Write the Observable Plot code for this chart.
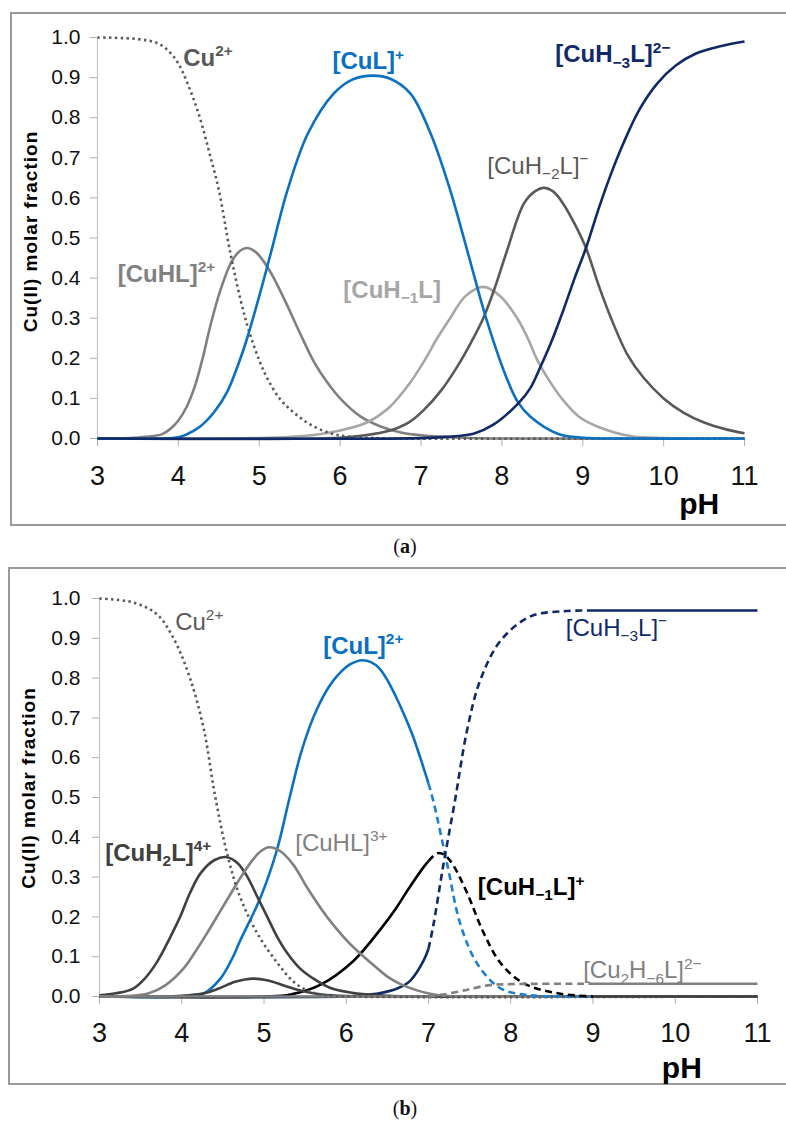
<!DOCTYPE html>
<html><head><meta charset="utf-8">
<script src="https://cdn.jsdelivr.net/npm/d3@7"></script>
<script src="https://cdn.jsdelivr.net/npm/@observablehq/plot@0.6"></script>
<style>
html,body{margin:0;padding:0;background:#fff;width:786px;height:1122px;overflow:hidden;position:relative;font-family:"Liberation Sans",Arial,sans-serif}
.box{position:absolute;border:2px solid #9a9a9a;border-right:none;background:#fff}
.box svg{display:block}
.cap{position:absolute;width:100px;text-align:center;font-family:"Liberation Serif","Times New Roman",serif;font-size:20px;color:#111}
</style></head><body>
<div id="boxA" class="box" style="left:10px;top:12px;width:776px;height:510px"></div>
<div class="cap" style="left:355px;top:535px">(<b>a</b>)</div>
<div id="boxB" class="box" style="left:8px;top:567px;width:776px;height:514px"></div>
<div class="cap" style="left:355px;top:1097px">(<b>b</b>)</div>
<script>
// ---------- data: panel (a) ----------
const xTicks = [3,4,5,6,7,8,9,10,11];
const yTicks = [0,0.1,0.2,0.3,0.4,0.5,0.6,0.7,0.8,0.9,1.0];
const yTitle = "Cu(II) molar fraction";
const xTitle = "pH";

const aCu = [[3,1],[3.5,0.996],[3.75,0.985],[3.9,0.962],[4,0.935],[4.1,0.892],[4.25,0.81],[4.4,0.7],[4.5,0.62],[4.64,0.465],[4.77,0.345],[4.87,0.27],[5,0.195],[5.1,0.15],[5.25,0.1],[5.42,0.066],[5.63,0.035],[5.88,0.013],[6.1,0.005],[6.4,0.001],[6.7,0],[11,0]];
const aCuHL = [[3,0],[3.4,0.001],[3.6,0.004],[3.8,0.011],[3.9,0.024],[4,0.045],[4.1,0.078],[4.2,0.128],[4.3,0.2],[4.4,0.285],[4.52,0.37],[4.65,0.438],[4.75,0.466],[4.85,0.475],[4.95,0.466],[5.05,0.443],[5.18,0.4],[5.35,0.33],[5.51,0.26],[5.68,0.19],[5.84,0.14],[6,0.1],[6.25,0.055],[6.5,0.03],[6.75,0.015],[7,0.008],[7.5,0.002],[8,0],[11,0]];
const aCuL = [[3,0],[3.8,0],[4,0.003],[4.1,0.01],[4.27,0.03],[4.45,0.068],[4.6,0.115],[4.75,0.19],[4.85,0.25],[5,0.355],[5.14,0.46],[5.35,0.62],[5.6,0.76],[5.92,0.86],[6.15,0.895],[6.41,0.905],[6.62,0.897],[6.87,0.86],[7.12,0.76],[7.36,0.62],[7.57,0.47],[7.82,0.29],[8.07,0.145],[8.2,0.09],[8.35,0.055],[8.69,0.012],[9,0.002],[9.5,0],[11,0]];
const aCuH1L = [[3,0],[5,0.001],[5.4,0.004],[5.72,0.01],[6,0.02],[6.33,0.04],[6.62,0.08],[6.85,0.135],[7.03,0.19],[7.2,0.25],[7.36,0.3],[7.55,0.355],[7.77,0.378],[7.98,0.355],[8.19,0.3],[8.32,0.25],[8.44,0.195],[8.6,0.14],[8.76,0.095],[8.95,0.055],[9.18,0.03],[9.59,0.006],[10,0.001],[11,0]];
const aCuH2L = [[3,0],[6,0.002],[6.3,0.008],[6.62,0.02],[6.85,0.04],[7.03,0.07],[7.25,0.12],[7.45,0.18],[7.62,0.24],[7.77,0.3],[7.92,0.38],[8.05,0.46],[8.27,0.585],[8.4,0.615],[8.52,0.625],[8.64,0.615],[8.76,0.585],[8.9,0.535],[9.04,0.475],[9.2,0.38],[9.34,0.305],[9.55,0.21],[9.75,0.152],[10,0.1],[10.25,0.064],[10.5,0.04],[10.75,0.024],[11,0.013]];
const aCuH3L = [[3,0],[7,0.001],[7.3,0.004],[7.65,0.012],[7.9,0.035],[8.2,0.087],[8.35,0.125],[8.48,0.18],[8.62,0.245],[8.76,0.32],[8.9,0.4],[9.04,0.475],[9.2,0.575],[9.34,0.655],[9.5,0.735],[9.7,0.82],[9.92,0.885],[10.15,0.93],[10.4,0.96],[10.7,0.978],[11,0.99]];

const aLabels = [
  {x:4.06, y:0.948, t:"Cu^{2+}", c:"#595959", b:true},
  {x:5.905, y:0.94, t:"[CuL]^{+}", c:"#0a70c0", b:true},
  {x:8.66, y:0.957, t:"[CuH_{−3}L]^{2−}", c:"#102a68", b:true},
  {x:7.82, y:0.68, t:"[CuH_{−2}L]^{−}", c:"#595959", b:false},
  {x:3.25, y:0.41, t:"[CuHL]^{2+}", c:"#808080", b:true},
  {x:6.04, y:0.37, t:"[CuH_{−1}L]", c:"#a6a6a6", b:true}
];

// ---------- data: panel (b) ----------
const bCu = [[3,1],[3.41,0.99],[3.7,0.96],[3.9,0.9],[4.1,0.8],[4.27,0.67],[4.4,0.51],[4.55,0.36],[4.71,0.25],[4.92,0.158],[5.16,0.085],[5.36,0.037],[5.55,0.013],[5.75,0.003],[6,0],[11,0]];
const bCuH2L = [[3,0.003],[3.2,0.008],[3.41,0.02],[3.55,0.045],[3.7,0.087],[3.85,0.145],[3.98,0.2],[4.1,0.26],[4.23,0.31],[4.4,0.343],[4.55,0.35],[4.68,0.335],[4.8,0.3],[4.92,0.25],[5.04,0.2],[5.16,0.15],[5.28,0.11],[5.44,0.07],[5.6,0.045],[5.8,0.022],[6.05,0.01],[6.5,0.002],[7,0],[11,0]];
const bBump = [[3,0],[4,0.002],[4.27,0.008],[4.45,0.02],[4.65,0.037],[4.87,0.045],[5.05,0.04],[5.25,0.027],[5.44,0.015],[5.7,0.005],[6,0.001],[6.5,0],[11,0]];
const bCuHL = [[3,0],[3.4,0.002],[3.6,0.008],[3.8,0.028],[4.02,0.07],[4.15,0.108],[4.31,0.16],[4.47,0.215],[4.63,0.27],[4.75,0.31],[4.87,0.345],[4.96,0.365],[5.06,0.375],[5.2,0.365],[5.36,0.33],[5.52,0.275],[5.69,0.222],[5.85,0.178],[6.01,0.14],[6.17,0.108],[6.33,0.079],[6.5,0.05],[6.66,0.031],[6.85,0.016],[7.02,0.007],[7.2,0.002],[7.5,0],[11,0]];
const bCuLsolid = [[3,0],[4,0],[4.27,0.008],[4.47,0.045],[4.6,0.09],[4.71,0.14],[4.96,0.25],[5.16,0.37],[5.3,0.49],[5.44,0.605],[5.55,0.675],[5.65,0.725],[5.78,0.775],[5.9,0.808],[6.05,0.835],[6.2,0.845],[6.3,0.84],[6.4,0.825],[6.5,0.795],[6.6,0.755],[6.7,0.71],[6.8,0.66],[6.9,0.6],[7,0.535]];
const bCuLdash = [[7,0.535],[7.06,0.49],[7.23,0.33],[7.39,0.18],[7.6,0.08],[7.88,0.02],[8.24,0.003],[8.6,0],[9,0]];
const bCuH3Lsolid = [[3,0],[6,0],[6.2,0.003],[6.4,0.008],[6.62,0.02],[6.78,0.04],[6.94,0.09],[7,0.12]];
const bCuH3Ldash = [[7,0.12],[7.06,0.18],[7.18,0.33],[7.32,0.49],[7.47,0.67],[7.63,0.795],[7.88,0.895],[8.24,0.955],[8.64,0.968],[9,0.97]];
const bCuH3Lend = [[9,0.97],[11,0.97]];
const bCuH1Lsolid = [[3,0],[5,0],[5.32,0.005],[5.69,0.03],[6.09,0.09],[6.42,0.17],[6.6,0.22],[6.74,0.265],[6.94,0.325],[7,0.34]];
const bCuH1Ldash = [[7,0.34],[7.11,0.36],[7.2,0.355],[7.3,0.33],[7.47,0.26],[7.67,0.16],[7.88,0.083],[8.16,0.033],[8.57,0.008],[9,0]];
const bCuH1Lend = [[9,0],[11,0]];
const bCu2solid = [[3,0],[7,0]];
const bCu2dash = [[7,0],[7.15,0.004],[7.43,0.015],[7.72,0.028],[8,0.031],[9,0.032]];
const bCu2end = [[9,0.032],[11,0.032]];

const bLabels = [
  {x:3.92, y:0.94, t:"Cu^{2+}", c:"#595959", b:false},
  {x:5.72, y:0.88, t:"[CuL]^{2+}", c:"#0a70c0", b:true},
  {x:8.67, y:0.925, t:"[CuH_{−3}L]^{−}", c:"#102a68", b:false},
  {x:3.07, y:0.36, t:"[CuH_{2}L]^{4+}", c:"#404040", b:true},
  {x:5.38, y:0.385, t:"[CuHL]^{3+}", c:"#808080", b:false},
  {x:7.6, y:0.274, t:"[CuH_{−1}L]^{+}", c:"#000000", b:true},
  {x:8.88, y:0.065, t:"[Cu_{2}H_{−6}L]^{2−}", c:"#808080", b:false}
];

// ---------- styles ----------
const LW = 2.6, DASH = "7,4.5", DOT = "2.4,3.4", LFS = 24;
const BLUE = "#0a70c0", NAVY = "#0f2a66";

function line(data, stroke, dash) {
  return Plot.line(data, {x: d => d[0], y: d => d[1], stroke, strokeWidth: LW, curve: "catmull-rom",
    strokeDasharray: dash, strokeLinecap: "butt", strokeLinejoin: "round"});
}

function labelMarks(labels) {
  return labels.map(l => Plot.text([l], {x: "x", y: "y", text: "t", fill: l.c, fontSize: LFS,
    fontWeight: l.b ? "bold" : "normal", textAnchor: "start", lineAnchor: "middle"}));
}

function panel({width, height, mL, mR, mT, mB, lines, labels, tickPad, titleDx, titleDy, phX, phDy, xPad}) {
  return Plot.plot({
    width, height, marginLeft: mL, marginRight: mR, marginTop: mT, marginBottom: mB,
    style: {fontFamily: "'Liberation Sans', Arial, sans-serif", background: "transparent", overflow: "visible"},
    x: {domain: [3, 11]},
    y: {domain: [0, 1]},
    marks: [
      Plot.ruleX([3], {y1: 0, y2: 1, stroke: "#c4c4c4", strokeWidth: 1.2}),
      Plot.ruleY([0], {x1: 3, x2: 11, stroke: "#c4c4c4", strokeWidth: 1.2}),
      Plot.axisY({ticks: yTicks, tickSize: 7, tickPadding: tickPad, tickFormat: d3.format(".1f"),
        fontSize: 21, stroke: "#b0b0b0", fill: "#111", label: null}),
      Plot.axisX({ticks: xTicks, tickSize: 8, tickPadding: xPad, tickFormat: d3.format("d"),
        fontSize: 27, stroke: "#b0b0b0", fill: "#111", label: null}),
      ...lines,
      ...labelMarks(labels),
      Plot.text([yTitle], {frameAnchor: "left", rotate: -90, dx: titleDx, dy: titleDy, fontSize: 19,
        fontWeight: "bold", fill: "#000", textAnchor: "middle", lineAnchor: "middle"}),
      Plot.text([xTitle], {x: () => phX, frameAnchor: "bottom", dy: phDy, fontSize: 30,
        fontWeight: "bold", fill: "#000", textAnchor: "middle", lineAnchor: "bottom"})
    ]
  });
}

// convert ^{..} and _{..} markup inside text into tspans
function richify(svg) {
  const ns = "http://www.w3.org/2000/svg";
  svg.querySelectorAll("text").forEach(t => {
    const s = t.textContent;
    if (s === yTitle) t.setAttribute("letter-spacing", "1");
    if (!/[\^_]\{/.test(s)) return;
    const fs = LFS;
    t.textContent = "";
    const re = /([\^_])\{([^}]*)\}|([^\^_]+)/g;
    let m, cur = 0;
    while ((m = re.exec(s))) {
      const ts = document.createElementNS(ns, "tspan");
      let tgt = 0;
      if (m[3]) { ts.textContent = m[3]; }
      else {
        ts.textContent = m[2];
        ts.setAttribute("font-size", (0.64 * fs).toFixed(1));
        tgt = m[1] === "^" ? -0.4 * fs : 0.22 * fs;
      }
      const dy = tgt - cur;
      if (Math.abs(dy) > 0.01) ts.setAttribute("dy", dy.toFixed(2));
      cur = tgt;
      t.appendChild(ts);
    }
  });
  return svg;
}

const linesA = [
  line(aCuHL, "#808080"),
  line(aCuH1L, "#a6a6a6"),
  line(aCuH2L, "#595959"),
  line(aCu, "#595959", DOT),
  line(aCuL, BLUE),
  line(aCuH3L, NAVY)
];

const linesB = [
  line(bCuH3Lsolid, NAVY),
  line(bCuLsolid, BLUE),
  line(bCuH1Lsolid, "#000000"),
  line(bCuH2L, "#404040"),
  line(bBump, "#404040"),
  line(bCuHL, "#808080"),
  line(bCu2solid, "#808080"),
  line(bCu, "#595959", DOT),
  line(bCuLdash, "#1a80d0", DASH),
  line(bCuH3Ldash, NAVY, DASH),
  line(bCuH1Ldash, "#000000", DASH),
  line(bCu2dash, "#808080", DASH),
  line(bCuH3Lend, NAVY),
  line(bCu2end, "#808080"),
  line(bCuH1Lend, "#404040")
];

document.getElementById("boxA").appendChild(richify(panel({
  width: 776, height: 510, mL: 85, mR: 44, mT: 23, mB: 86,
  lines: linesA, labels: aLabels, tickPad: 10, xPad: 19,
  titleDx: -67, titleDy: -6.5, phX: 10.44, phDy: 75
})));

document.getElementById("boxB").appendChild(richify(panel({
  width: 776, height: 514, mL: 89, mR: 29, mT: 29, mB: 87,
  lines: linesB, labels: bLabels, tickPad: 12, xPad: 18,
  titleDx: -70.5, titleDy: -9.5, phX: 10.08, phDy: 81
})));
</script>
</body></html>
